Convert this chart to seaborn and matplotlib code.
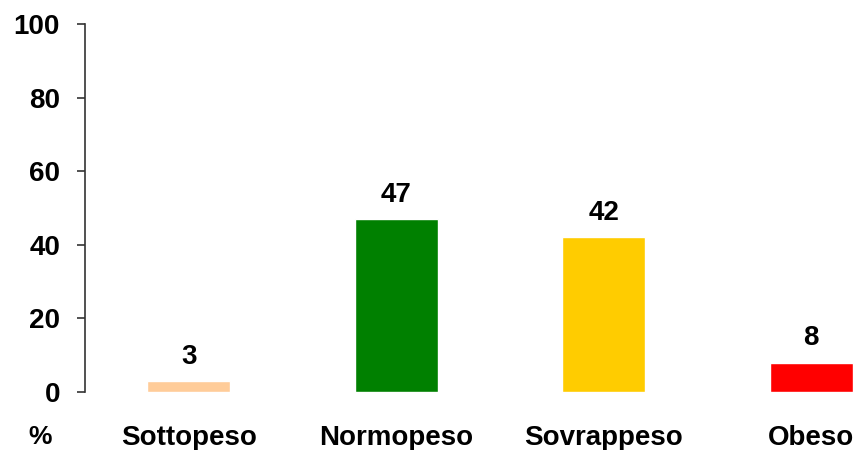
import matplotlib
matplotlib.use('Agg')
import matplotlib.pyplot as plt
import seaborn as sns
import pandas as pd

categories = ['Sottopeso', 'Normopeso', 'Sovrappeso', 'Obeso']
values = [3, 47, 42, 8]
colors = ['#FFCC99', '#008000', '#FFCC00', '#FF0000']
y_ticks = [0, 20, 40, 60, 80, 100]

sns.set_style('white')
plt.rcParams['font.family'] = ['Liberation Sans', 'DejaVu Sans']
plt.rcParams['text.color'] = 'black'
plt.rcParams['xtick.labelcolor'] = 'black'
plt.rcParams['ytick.labelcolor'] = 'black'

df = pd.DataFrame({'cat': categories, 'val': values})

fig = plt.figure(figsize=(8.57, 4.5), dpi=100)
ax = fig.add_axes([85 / 857, 1 - 392 / 450, (857 - 85) / 857, (392 - 24) / 450])
sns.barplot(data=df, x='cat', y='val', hue='cat', palette=colors, width=0.4,
            legend=False, ax=ax, saturation=1)

for c in ax.containers:
    ax.bar_label(c, padding=8, fontsize=20, fontweight='bold', color='black')

ax.set_ylim(0, 100)
ax.set_xlim(-0.5, 3.22)
ax.set_yticks(y_ticks)
ax.set_xlabel('')
ax.set_ylabel('')
for s in ['top', 'right', 'bottom']:
    ax.spines[s].set_visible(False)
ax.spines['left'].set_color('#333333')
ax.spines['left'].set_linewidth(1.2)
ax.tick_params(axis='y', left=True, length=6, width=1.2, color='#333333', pad=12,
               labelsize=20)
ax.tick_params(axis='x', length=0, pad=24, labelsize=20)
for lbl in ax.get_yticklabels() + ax.get_xticklabels():
    lbl.set_fontweight('bold')

fig.text(40 / 857, 1 - 437 / 450, '%', fontsize=19, fontweight='bold',
         ha='center', va='center')

fig.savefig('out.png', dpi=100)
